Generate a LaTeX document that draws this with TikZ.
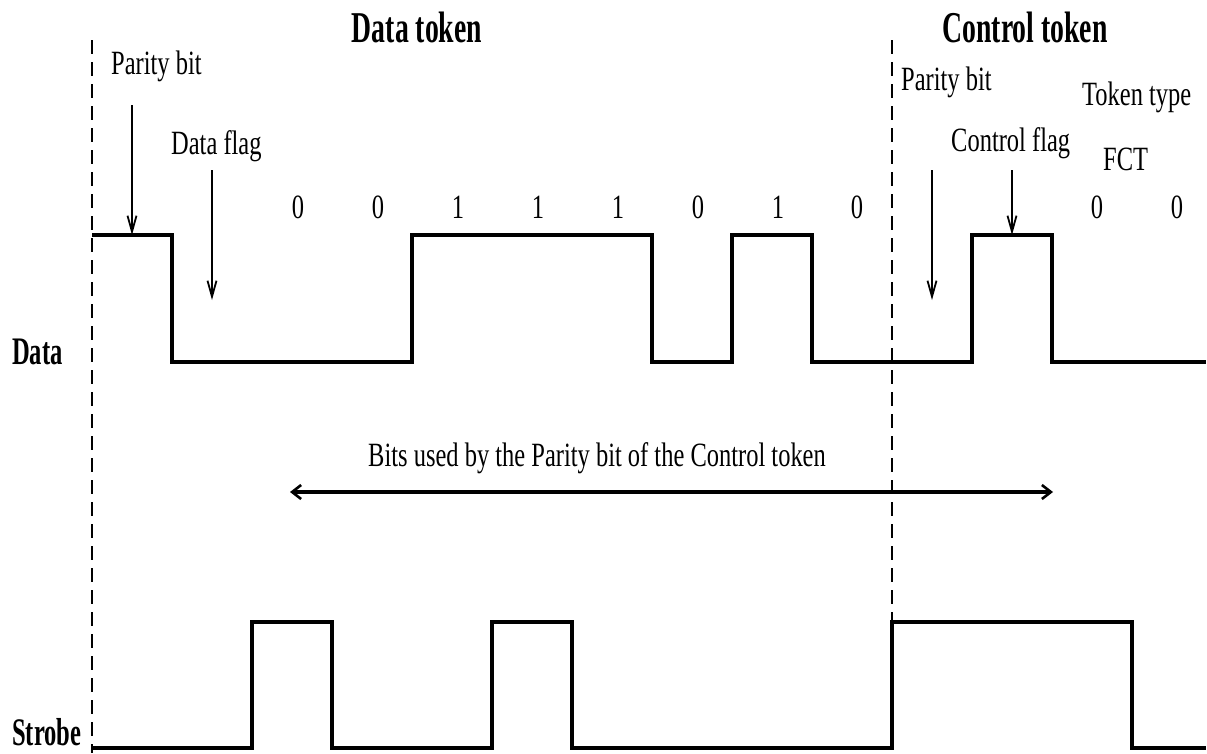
\documentclass[tikz,border=0pt]{standalone}
\usepackage{fontspec}
\setmainfont{Liberation Serif}
\usetikzlibrary{arrows.meta}
% narrow type, as set in the original figure
\newcommand{\narrowtxt}[1]{\scalebox{0.72}[1]{#1}}
\newcommand{\narrowbf}[1]{\scalebox{0.63}[1]{\bfseries #1}}
\begin{document}
\begin{tikzpicture}[x=1pt,y=-1pt,
  wave/.style={line width=3.2pt, line join=miter},
  border/.style={line width=2pt, dash pattern=on 14pt off 8pt},
  pointer/.style={line width=2.2pt, -{Straight Barb[length=16pt,width=9pt,line width=1.8pt]}},
  span/.style={line width=3.2pt, {Straight Barb[length=9pt,width=14pt,line width=2.6pt]}-{Straight Barb[length=9pt,width=14pt,line width=2.6pt]}},
  lbl/.style={inner sep=0pt, font=\fontsize{34}{36}\selectfont},
  title/.style={inner sep=0pt, font=\fontsize{44}{48}\selectfont},
  side/.style={inner sep=0pt, font=\fontsize{39}{42}\selectfont},
  bit/.style={inner sep=0pt, anchor=base, font=\fontsize{34}{36}\selectfont}]
\useasboundingbox (0,0) rectangle (1207,753);

% token boundaries
\draw[border] (92,40) -- (92,753);
\draw[border] (892,40) -- (892,622);

% titles
\node[title, anchor=base] (tdata) at (417,42) {\narrowbf{Data token}};
\node[title, anchor=base] (tctrl) at (1025,42) {\narrowbf{Control token}};

% signal names
\node[side, anchor=base west] (ndata) at (12,364) {\narrowbf{Data}};
\node[side, anchor=base west] (nstrobe) at (12,745) {\narrowbf{Strobe}};

% data line
\draw[wave] (92,235) -- (172,235) -- (172,362) -- (412,362) -- (412,235)
  -- (652,235) -- (652,362) -- (732,362) -- (732,235) -- (812,235)
  -- (812,362) -- (972,362) -- (972,235) -- (1052,235) -- (1052,362)
  -- (1206,362);

% strobe line
\draw[wave] (92,748) -- (252,748) -- (252,622) -- (332,622) -- (332,748)
  -- (492,748) -- (492,622) -- (572,622) -- (572,748) -- (892,748)
  -- (892,622) -- (1132,622) -- (1132,748) -- (1206,748);

% bit values
\foreach \x/\v in {298/0,378/0,458/1,538/1,618/1,698/0,778/1,857/0,1097/0,1177/0}
  \node[bit] at (\x,218) {\narrowtxt{\v}};

% field labels
\node[lbl, anchor=base west] (pbd) at (111,74) {\narrowtxt{Parity bit}};
\node[lbl, anchor=base west] (dfl) at (171,154) {\narrowtxt{Data flag}};
\node[lbl, anchor=base west] (pbc) at (901,90) {\narrowtxt{Parity bit}};
\node[lbl, anchor=base west] (cfl) at (951,151) {\narrowtxt{Control flag}};
\node[lbl, anchor=base west] (ttp) at (1082,105) {\narrowtxt{Token type}};
\node[lbl, anchor=base west] (fct) at (1103,170) {\narrowtxt{FCT}};

% pointers from the labels
\coordinate (pbdA) at (132,105);  \coordinate (pbdB) at (132,235);
\coordinate (dflA) at (212,170);  \coordinate (dflB) at (212,300);
\coordinate (pbcA) at (932,170);  \coordinate (pbcB) at (932,300);
\coordinate (cflA) at (1012,170); \coordinate (cflB) at (1012,235);
\draw[pointer] (pbdA) -- (pbdB);
\draw[pointer] (dflA) -- (dflB);
\draw[pointer] (pbcA) -- (pbcB);
\draw[pointer] (cflA) -- (cflB);

% parity coverage
\node[lbl, anchor=base] (cov) at (597,466) {\narrowtxt{Bits used by the Parity bit of the Control token}};
\coordinate (covL) at (290,492);
\coordinate (covR) at (1053,492);
\draw[span] (covL) -- (covR);
\end{tikzpicture}
\end{document}
